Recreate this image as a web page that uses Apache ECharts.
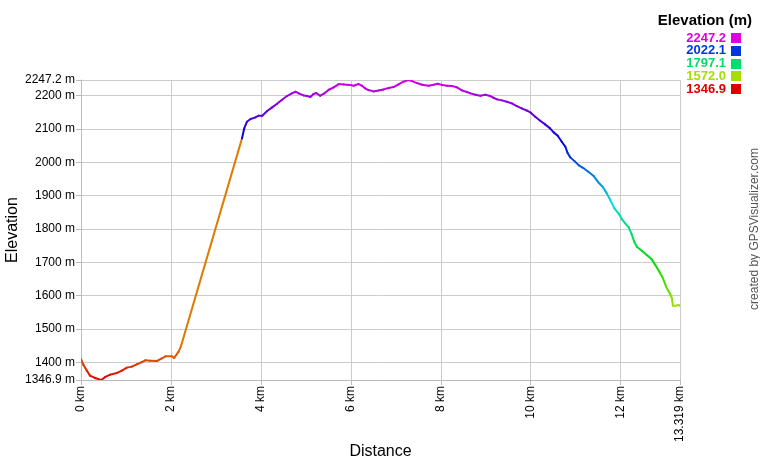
<!DOCTYPE html>
<html>
<head>
<meta charset="utf-8">
<script src="https://cdn.jsdelivr.net/npm/echarts@6/dist/echarts.min.js"></script>
<style>
html,body{margin:0;padding:0;background:#fff;}
#chart{width:760px;height:460px;}
</style>
</head>
<body>
<div id="chart"></div>
<script>
const distanceKm = [
  0.00, 0.05, 0.13, 0.20, 0.31, 0.45, 0.54, 0.65, 0.80, 0.91,
  1.02, 1.13, 1.24, 1.34, 1.43, 1.54, 1.69, 1.80, 1.88, 2.02,
  2.07, 2.17, 2.22, 3.58, 3.63, 3.69, 3.77, 3.88, 3.95, 4.03,
  4.14, 4.25, 4.36, 4.47, 4.58, 4.69, 4.77, 4.84, 4.95, 5.03,
  5.10, 5.17, 5.23, 5.32, 5.40, 5.51, 5.62, 5.73, 5.84, 5.99,
  6.06, 6.17, 6.25, 6.32, 6.39, 6.50, 6.62, 6.73, 6.84, 6.95,
  7.06, 7.17, 7.28, 7.36, 7.47, 7.58, 7.73, 7.84, 7.93, 8.03,
  8.14, 8.25, 8.36, 8.47, 8.58, 8.66, 8.77, 8.88, 8.99, 9.10,
  9.17, 9.25, 9.36, 9.47, 9.58, 9.69, 9.80, 9.92, 10.00, 10.10,
  10.21, 10.32, 10.43, 10.51, 10.60, 10.69, 10.77, 10.82, 10.88, 10.98,
  11.07, 11.17, 11.28, 11.40, 11.51, 11.60, 11.69, 11.77, 11.86, 11.95,
  12.03, 12.10, 12.18, 12.25, 12.30, 12.36, 12.47, 12.58, 12.69, 12.77,
  12.86, 12.94, 13.01, 13.10, 13.14, 13.16, 13.21, 13.29, 13.319
];
const elevationM = [
  1410, 1393, 1375, 1360, 1353, 1346.9, 1356, 1363, 1368, 1375,
  1384, 1387, 1394, 1400, 1406, 1405, 1404, 1412, 1418, 1418,
  1413, 1432, 1447, 2072, 2102, 2122, 2130, 2135, 2140, 2140,
  2154, 2165, 2176, 2188, 2199, 2207, 2212, 2207, 2201, 2199,
  2196, 2205, 2208, 2200, 2206, 2218, 2225, 2235, 2234, 2232,
  2230, 2235, 2230, 2222, 2217, 2213, 2216, 2219, 2223, 2226,
  2234, 2242, 2247.2, 2244, 2238, 2233, 2230, 2233, 2236, 2232,
  2230, 2229, 2225, 2216, 2211, 2207, 2203, 2200, 2203, 2199,
  2194, 2189, 2186, 2182, 2177, 2169, 2162, 2155, 2149, 2137,
  2125, 2114, 2102, 2090, 2080, 2062, 2047, 2028, 2015, 2003,
  1991, 1983, 1972, 1959, 1939, 1927, 1907, 1887, 1862, 1847,
  1829, 1817, 1805, 1782, 1762, 1747, 1735, 1722, 1709, 1692,
  1672, 1652, 1627, 1605, 1592, 1570, 1570, 1572, 1569
];
const xTickValues = [0, 2, 4, 6, 8, 10, 12, 13.319];
const yTickValues = [1346.9, 1400, 1500, 1600, 1700, 1800, 1900, 2000, 2100, 2200, 2247.2];
const legendValues = [2247.2, 2022.1, 1797.1, 1572.0, 1346.9];

const Y_MIN = 1346.9, Y_MAX = 2247.2, X_MAX = 13.319;

// hue scale red -> magenta over the elevation range
function elevColor(e) {
  const t = Math.max(0, Math.min(1, (e - Y_MIN) / (Y_MAX - Y_MIN)));
  const h = 300 * t, s = 1, v = 0.87;
  const c = v * s, hp = h / 60, x = c * (1 - Math.abs(hp % 2 - 1));
  let r = 0, g = 0, b = 0;
  if (hp < 1) { r = c; g = x; }
  else if (hp < 2) { r = x; g = c; }
  else if (hp < 3) { g = c; b = x; }
  else if (hp < 4) { g = x; b = c; }
  else if (hp < 5) { r = x; b = c; }
  else { r = c; b = x; }
  const m = v - c;
  const hx = n => Math.round((n + m) * 255).toString(16).padStart(2, '0');
  return '#' + hx(r) + hx(g) + hx(b);
}

const points = distanceKm.map((d, i) => [d, elevationM[i]]);
const FONT = '"Liberation Sans", Arial, sans-serif';

const legendChildren = [{
  type: 'text', x: 752, y: 21,
  style: { text: 'Elevation (m)', font: 'bold 15px ' + FONT, fill: '#000', align: 'right', verticalAlign: 'middle' }
}];
legendValues.forEach((v, k) => {
  const cy = 38 + k * 12.75;
  legendChildren.push({
    type: 'text', x: 726, y: cy,
    style: { text: v.toFixed(1), font: 'bold 13px ' + FONT, fill: elevColor(v), align: 'right', verticalAlign: 'middle' }
  });
  legendChildren.push({
    type: 'rect', x: 731, y: Math.round(cy - 5),
    shape: { width: 10, height: 10 },
    style: { fill: elevColor(v) }
  });
});

const chart = echarts.init(document.getElementById('chart'), null, { renderer: 'canvas' });
chart.setOption({
  animation: false,
  backgroundColor: '#fff',
  grid: { left: 81, right: 80, top: 80, bottom: 80, containLabel: false, outerBoundsMode: 'none' },
  xAxis: {
    type: 'value', min: 0, max: X_MAX,
    name: 'Distance', nameLocation: 'middle', nameGap: 64, nameMoveOverlap: false,
    nameTextStyle: { fontSize: 16, color: '#000', fontFamily: FONT },
    axisLine: { show: true, lineStyle: { color: '#bbb', width: 1 } },
    axisTick: { show: true, length: 5, customValues: xTickValues, lineStyle: { color: '#bbb' } },
    axisLabel: {
      customValues: xTickValues, rotate: 90, margin: 6, fontSize: 12, color: '#000', fontFamily: FONT,
      formatter: v => v + ' km', hideOverlap: false
    },
    splitLine: { show: true, lineStyle: { color: '#ccc', width: 1 } }
  },
  yAxis: {
    type: 'value', min: Y_MIN, max: Y_MAX,
    name: 'Elevation', nameLocation: 'middle', nameGap: 60, nameMoveOverlap: false,
    nameTextStyle: { fontSize: 16, color: '#000', fontFamily: FONT },
    axisLine: { show: true, lineStyle: { color: '#bbb', width: 1 } },
    axisTick: { show: true, length: 5, customValues: yTickValues, lineStyle: { color: '#bbb' } },
    axisLabel: {
      customValues: yTickValues, margin: 6, fontSize: 12, color: '#000', fontFamily: FONT,
      formatter: v => v + ' m', hideOverlap: false, showMinLabel: true, showMaxLabel: true
    },
    splitLine: { show: true, lineStyle: { color: '#ccc', width: 1 } }
  },
  graphic: [
    { type: 'group', x: 0, y: 0, children: legendChildren },
    {
      type: 'text', x: 755, y: 229, rotation: Math.PI / 2,
      style: { text: 'created by GPSVisualizer.com', font: '12px ' + FONT, fill: '#555', align: 'center', verticalAlign: 'middle' }
    }
  ],
  series: [{
    type: 'custom',
    coordinateSystem: 'cartesian2d',
    data: points,
    encode: { x: 0, y: 1 },
    clip: true,
    renderItem: function (params, api) {
      const i = params.dataIndex;
      if (i >= points.length - 1) return null;
      const a = api.coord(points[i]);
      const b = api.coord(points[i + 1]);
      return {
        type: 'line',
        shape: { x1: a[0], y1: a[1], x2: b[0], y2: b[1] },
        style: { stroke: elevColor(points[i][1]), lineWidth: 2, lineCap: 'round' },
        silent: true
      };
    }
  }]
});
</script>
</body>
</html>
